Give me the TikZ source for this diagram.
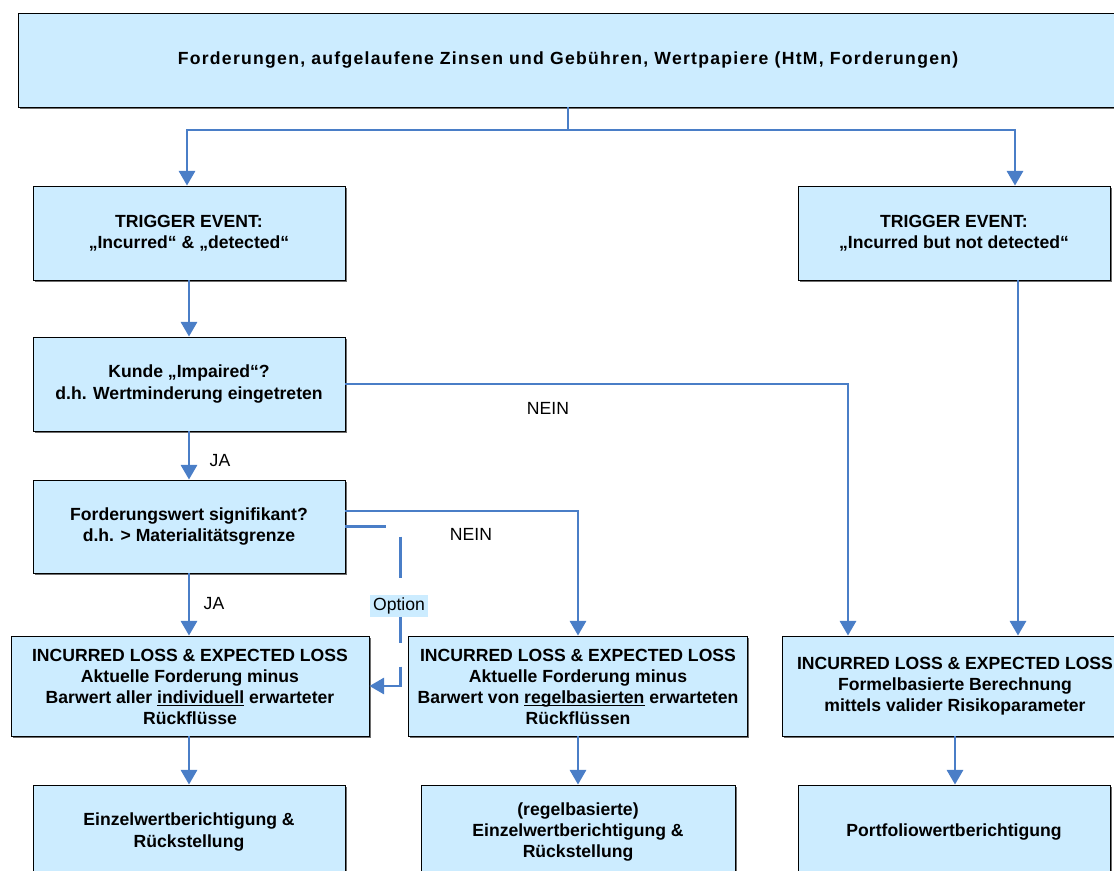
\documentclass[tikz,border=0pt]{standalone}
\usepackage{fontspec}
\setmainfont{Liberation Sans}
\usetikzlibrary{arrows.meta,calc,shadows}
\definecolor{boxblue}{HTML}{CCECFF}
\definecolor{flowblue}{HTML}{4A7EC7}
\definecolor{shadowgray}{HTML}{6E6E6E}
\newlength\ulpreA \newlength\ulwordA \newlength\ulpreB \newlength\ulwordB
\AtBeginDocument{%
  \begingroup
  \fontsize{13.2}{15.9}\selectfont\bfseries
  \setbox0=\hbox{Barwert aller }\global\ulpreA=\wd0
  \setbox0=\hbox{individuell}\global\ulwordA=\wd0
  \setbox0=\hbox{Barwert von }\global\ulpreB=\wd0
  \setbox0=\hbox{regelbasierten}\global\ulwordB=\wd0
  \endgroup}
\begin{document}
\begin{tikzpicture}[x=0.75pt,y=-0.75pt,
  every node/.style={font=\fontsize{13.2}{15.9}\selectfont},
  box/.style={draw=black, line width=0.6pt, fill=boxblue, align=center,
    font=\fontsize{13.2}{15.9}\selectfont\bfseries, inner sep=0pt,
    drop shadow={shadow xshift=1.3pt, shadow yshift=-1.3pt, fill=shadowgray, opacity=1}},
  stdbox/.style={box, minimum width=234pt, minimum height=70.5pt},
  ltxt/.style={anchor=base, inner sep=0pt, outer sep=0pt, font=\fontsize{13.2}{15.9}\selectfont\bfseries},
  ulline/.style={draw=black, line width=0.7pt},
  flow/.style={draw=flowblue, line width=2.2pt},
  arrow/.style={flow, -{Triangle[length=11pt,width=12pt]}},
  optline/.style={arrow, dash pattern=on 30.75pt off 18pt},
  lbl/.style={font=\fontsize{13.2}{15.9}\selectfont, inner sep=1pt},
  optlbl/.style={lbl, fill=boxblue, inner sep=2pt}
]
\useasboundingbox (0,0) rectangle (1114,871);
\clip (0,0) rectangle (1114,871);

% boxes
\node[box, minimum width=825pt, minimum height=70.5pt] (top) at (568,60)
  {\addfontfeature{LetterSpace=7.2}Forderungen, aufgelaufene Zinsen und Gebühren, Wertpapiere (HtM, Forderungen)};
\node[stdbox] (te1) at (189,233) {TRIGGER EVENT:\\„Incurred“ \& „detected“};
\node[stdbox] (te2) at (954,233) {TRIGGER EVENT:\\„Incurred but not detected“};
\node[stdbox] (kunde) at (189,384) {Kunde „Impaired“?\\d.h. Wertminderung eingetreten};
\node[stdbox, minimum height=69.75pt] (ford) at (189,526.5) {Forderungswert signifikant?\\d.h. > Materialitätsgrenze};

\node[box, minimum width=268.5pt, minimum height=75pt] (il1) at (190,686) {};
\node[ltxt] (il1a) at (190,661) {INCURRED LOSS \& EXPECTED LOSS};
\node[ltxt] (il1b) at (190,682) {Aktuelle Forderung minus};
\node[ltxt] (il1c) at (190,703) {Barwert aller individuell erwarteter};
\node[ltxt] (il1d) at (190,724) {Rückflüsse};
\draw[ulline] ($(il1c.base west)+(\the\ulpreA,-2.2pt)$) -- ++(\the\ulwordA,0pt);

\node[box, minimum width=254.25pt, minimum height=75pt] (il2) at (578,686) {};
\node[ltxt] (il2a) at (578,661) {INCURRED LOSS \& EXPECTED LOSS};
\node[ltxt] (il2b) at (578,682) {Aktuelle Forderung minus};
\node[ltxt] (il2c) at (578,703) {Barwert von regelbasierten erwarteten};
\node[ltxt] (il2d) at (578,724) {Rückflüssen};
\draw[ulline] ($(il2c.base west)+(\the\ulpreB,-2.2pt)$) -- ++(\the\ulwordB,0pt);

\node[box, minimum width=259.5pt, minimum height=75pt] (il3) at (955,686)
  {INCURRED LOSS \& EXPECTED LOSS\\Formelbasierte Berechnung\\mittels valider Risikoparameter};
\node[stdbox] (ewb) at (189,832) {Einzelwertberichtigung \&\\Rückstellung};
\node[box, minimum width=235.5pt, minimum height=70.5pt] (regel) at (578,832)
  {(regelbasierte)\\Einzelwertberichtigung \&\\Rückstellung};
\node[stdbox] (port) at (954,832) {Portfoliowertberichtigung};

% connectors
\coordinate (split) at (568,130);
\coordinate (te1in) at ($(te1.north)+(-2,0)$);
\coordinate (te2in) at ($(te2.north)+(61,0)$);
\coordinate (te2out) at ($(te2.south)+(64,0)$);
\coordinate (il3inA) at ($(il3.north)+(-107,0)$);
\coordinate (fordout) at ($(ford.east)+(0,-15.5)$);
\draw[flow] (top.south) -- (split);
\draw[arrow] (split) -| (te1in);
\draw[arrow] (split) -| (te2in);
\draw[arrow] (te1.south) -- (kunde.north);
\draw[arrow] (kunde.south) -- (ford.north);
\draw[arrow] (ford.south) -- (ford.south |- il1.north);
\draw[arrow] (kunde.east) -| (il3inA);
\draw[arrow] (fordout) -| (il2.north);
\draw[arrow] (te2out) -- (te2out |- il3.north);
\draw[optline] (ford.east) -- ++(55,0) |- (il1.east);
\draw[arrow] (il1.south -| ewb.north) -- (ewb.north);
\draw[arrow] (il2.south) -- (regel.north);
\draw[arrow] (il3.south) -- (il3.south |- port.north);

% labels
\node[lbl] (nein1) at (548,408) {NEIN};
\node[lbl] (nein2) at (471,534) {NEIN};
\node[lbl] (ja1) at (220,461) {JA};
\node[lbl] (ja2) at (214,604) {JA};
\node[optlbl] (opt) at (399,606) {Option};
\end{tikzpicture}
\end{document}
